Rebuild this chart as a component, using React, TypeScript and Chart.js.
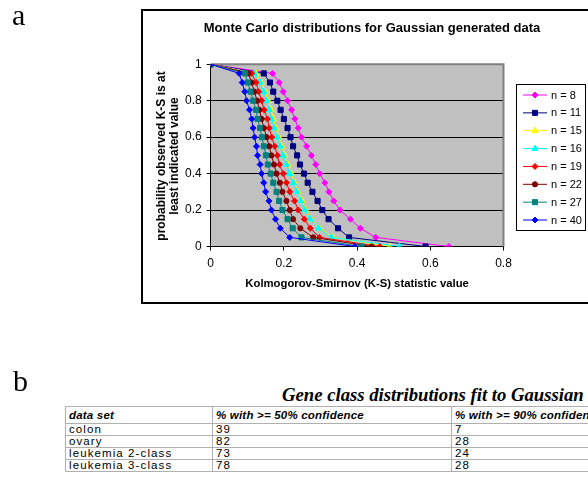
import React, { useEffect, useRef } from "react";
import { Chart, registerables } from "chart.js";

Chart.register(...registerables);

// ---------- chart data ----------
const yLevels = [1, 0.95, 0.9, 0.85, 0.8, 0.75, 0.7, 0.65, 0.6, 0.55, 0.5, 0.45, 0.4, 0.35, 0.3, 0.25, 0.2, 0.15, 0.1, 0.05, 0];
const n8 = [0, 0.169, 0.187, 0.198, 0.21, 0.221, 0.23, 0.239, 0.248, 0.262, 0.275, 0.287, 0.298, 0.312, 0.323, 0.336, 0.353, 0.382, 0.409, 0.451, 0.651];
const n11 = [0, 0.145, 0.162, 0.171, 0.182, 0.191, 0.2, 0.21, 0.218, 0.225, 0.236, 0.244, 0.255, 0.265, 0.278, 0.292, 0.305, 0.322, 0.348, 0.378, 0.587];
const n15 = [0, 0.124, 0.138, 0.149, 0.157, 0.165, 0.171, 0.178, 0.186, 0.194, 0.202, 0.211, 0.22, 0.229, 0.238, 0.25, 0.26, 0.274, 0.297, 0.334, 0.49];
const n16 = [0, 0.12, 0.135, 0.145, 0.153, 0.16, 0.166, 0.174, 0.182, 0.19, 0.198, 0.207, 0.216, 0.226, 0.235, 0.246, 0.257, 0.272, 0.295, 0.33, 0.516];
const n19 = [0, 0.112, 0.124, 0.131, 0.139, 0.146, 0.155, 0.16, 0.167, 0.175, 0.182, 0.188, 0.198, 0.207, 0.216, 0.229, 0.239, 0.256, 0.272, 0.297, 0.462];
const n22 = [0, 0.103, 0.112, 0.119, 0.127, 0.133, 0.139, 0.145, 0.153, 0.16, 0.166, 0.173, 0.18, 0.189, 0.196, 0.207, 0.216, 0.225, 0.245, 0.28, 0.44];
const n27 = [0, 0.094, 0.101, 0.109, 0.116, 0.124, 0.128, 0.135, 0.14, 0.145, 0.151, 0.156, 0.164, 0.171, 0.18, 0.187, 0.196, 0.21, 0.224, 0.248, 0.412];
const n40 = [0, 0.078, 0.086, 0.093, 0.098, 0.106, 0.112, 0.116, 0.12, 0.125, 0.128, 0.135, 0.139, 0.145, 0.15, 0.159, 0.166, 0.177, 0.19, 0.216, 0.394];

const seriesLabels = ["n = 8", "n = 11", "n = 15", "n = 16", "n = 19", "n = 22", "n = 27", "n = 40"];
const seriesX = [n8, n11, n15, n16, n19, n22, n27, n40];
const seriesColors = ["#FF00FF", "#000080", "#FFFF00", "#00FFFF", "#FF0000", "#800000", "#008080", "#0000FF"];
const seriesMarkers = ["rectRot", "rect", "triangle", "triangle", "rectRot", "circle", "rect", "rectRot"];
const seriesRadius = [3, 3.6, 3.6, 3.6, 3, 2.6, 3.6, 3];

const chartTitle = "Monte Carlo distributions for Gaussian generated data";
const xTitle = "Kolmogorov-Smirnov (K-S) statistic value";
const yTitle = ["probability observed K-S is at", "least indicated value"];

// ---------- table data ----------
const tableTitle = "Gene class distributions fit to Gaussian";
const tableHeaders = ["data set", "% with >= 50% confidence", "% with >= 90% confidence"];
const dataSets = ["colon", "ovary", "leukemia 2-class", "leukemia 3-class"];
const pct50 = [39, 82, 73, 78];
const pct90 = [7, 28, 24, 28];

const SANS = "'Liberation Sans', Arial, sans-serif";
const SERIF = "'Liberation Serif', 'Times New Roman', serif";

function drawMarker(ctx: CanvasRenderingContext2D, style: string, x: number, y: number, r: number, color: string) {
  ctx.save();
  ctx.fillStyle = color;
  ctx.strokeStyle = color;
  ctx.lineWidth = 1;
  ctx.beginPath();
  if (style === "rectRot") {
    ctx.moveTo(x, y - r);
    ctx.lineTo(x + r, y);
    ctx.lineTo(x, y + r);
    ctx.lineTo(x - r, y);
    ctx.closePath();
  } else if (style === "rect") {
    const s = r * Math.SQRT1_2;
    ctx.rect(x - s, y - s, 2 * s, 2 * s);
  } else if (style === "triangle") {
    const edge = (3 * r) / Math.sqrt(3);
    const h = (edge * Math.sqrt(3)) / 2;
    ctx.moveTo(x - edge / 2, y + h / 3);
    ctx.lineTo(x + edge / 2, y + h / 3);
    ctx.lineTo(x, y - (2 * h) / 3);
    ctx.closePath();
  } else {
    ctx.arc(x, y, r, 0, Math.PI * 2);
  }
  ctx.fill();
  ctx.stroke();
  ctx.restore();
}

const decor = {
  id: "decor",
  beforeDraw(chart: any) {
    const { ctx, chartArea: a } = chart;
    ctx.save();
    ctx.fillStyle = "#ffffff";
    ctx.fillRect(0, 0, chart.width, chart.height);
    ctx.fillStyle = "#C0C0C0";
    ctx.fillRect(a.left, a.top, a.right - a.left, a.bottom - a.top);
    ctx.restore();
  },
  beforeDatasetsDraw(chart: any) {
    const { ctx, chartArea: a } = chart;
    ctx.save();
    ctx.strokeStyle = "#808080";
    ctx.lineWidth = 2;
    ctx.beginPath();
    ctx.moveTo(a.left, a.top);
    ctx.lineTo(a.right, a.top);
    ctx.lineTo(a.right, a.bottom);
    ctx.stroke();
    ctx.restore();
  },
  afterDraw(chart: any) {
    const { ctx, chartArea: a } = chart;
    ctx.save();
    // outer chart frame
    ctx.strokeStyle = "#000";
    ctx.lineWidth = 2;
    ctx.strokeRect(142, 10, 500, 293);
    // title
    ctx.fillStyle = "#000";
    ctx.textAlign = "center";
    ctx.textBaseline = "middle";
    ctx.font = `bold 13px ${SANS}`;
    ctx.fillText(chartTitle, 372, 28);
    // x title
    ctx.font = `bold 11.3px ${SANS}`;
    ctx.fillText(xTitle, (a.left + a.right) / 2, 284);
    // y title
    ctx.save();
    ctx.font = `bold 12px ${SANS}`;
    ctx.translate(162, 156);
    ctx.rotate(-Math.PI / 2);
    ctx.fillText(yTitle[0], 0, 0);
    ctx.fillText(yTitle[1], 0, 13);
    ctx.restore();
    // legend
    ctx.lineWidth = 1;
    ctx.strokeStyle = "#000";
    ctx.strokeRect(516.5, 84.5, 69, 146);
    ctx.font = `11px ${SANS}`;
    ctx.textAlign = "left";
    for (let i = 0; i < seriesLabels.length; i++) {
      const y = 95 + i * 17.86;
      ctx.strokeStyle = seriesColors[i];
      ctx.lineWidth = 1;
      ctx.beginPath();
      ctx.moveTo(523, y);
      ctx.lineTo(547, y);
      ctx.stroke();
      drawMarker(ctx, seriesMarkers[i], 535, y, seriesRadius[i], seriesColors[i]);
      ctx.fillStyle = "#000";
      ctx.fillText(seriesLabels[i], 551, y + 0.5);
    }
    ctx.restore();
  },
};

function KSChart() {
  const ref = useRef<HTMLCanvasElement | null>(null);
  useEffect(() => {
    if (!ref.current) return;
    const datasets = seriesLabels.map((label, i) => ({
      label,
      data: seriesX[i].map((x, j) => ({ x, y: yLevels[j] })),
      borderColor: seriesColors[i],
      backgroundColor: seriesColors[i],
      borderWidth: 1,
      pointStyle: seriesMarkers[i] as any,
      pointRadius: seriesRadius[i],
      pointBorderWidth: 1,
      pointBorderColor: seriesColors[i],
      pointBackgroundColor: seriesColors[i],
      tension: 0,
      fill: false,
      order: seriesLabels.length - i,
    }));
    const chart = new Chart(ref.current, {
      type: "line",
      data: { datasets },
      options: {
        animation: false,
        responsive: false,
        devicePixelRatio: 1,
        layout: { padding: { left: 150, right: 84.5, top: 64.3, bottom: 23.5 } },
        plugins: { legend: { display: false }, tooltip: { enabled: false }, title: { display: false } },
        scales: {
          x: {
            type: "linear",
            min: 0,
            max: 0.8,
            afterFit: (s: any) => {
              s.height = 40;
            },
            ticks: {
              stepSize: 0.2,
              padding: 6,
              color: "#000",
              font: { family: SANS, size: 12 },
              callback: (v: any) => String(Math.round(Number(v) * 10) / 10),
            },
            grid: { drawOnChartArea: false, drawTicks: true, tickLength: 4, color: "#000" },
            border: { display: true, color: "#000", width: 1 },
          },
          y: {
            type: "linear",
            min: 0,
            max: 1,
            afterFit: (s: any) => {
              s.width = 60.7;
            },
            ticks: {
              stepSize: 0.2,
              padding: 5,
              color: "#000",
              font: { family: SANS, size: 12 },
              callback: (v: any) => String(Math.round(Number(v) * 10) / 10),
            },
            grid: {
              drawTicks: true,
              tickLength: 4,
              color: (c: any) => (c.tick && c.tick.value === 1 ? "rgba(0,0,0,0)" : "#000"),
              tickColor: "#000",
            },
            border: { display: true, color: "#000", width: 1 },
          },
        },
      },
      plugins: [decor],
    });
    return () => chart.destroy();
  }, []);
  return <canvas ref={ref} width={588} height={310} style={{ position: "absolute", left: 0, top: 0, width: 588, height: 310 }} />;
}

export default function App() {
  const cellBase: React.CSSProperties = {
    border: "1px solid #b0b0b0",
    padding: "0 3px",
    fontFamily: SANS,
    fontSize: 11.5,
    letterSpacing: "1.1px",
    whiteSpace: "nowrap",
    overflow: "hidden",
    textAlign: "left",
    verticalAlign: "middle",
    lineHeight: "11px",
  };
  const headCell: React.CSSProperties = {
    ...cellBase,
    fontSize: 11.5,
    letterSpacing: "0.2px",
    fontWeight: "bold",
    fontStyle: "italic",
  };
  const colW = [147, 239, 240];
  return (
    <div style={{ position: "absolute", left: 0, top: 0, width: 588, height: 487, overflow: "hidden", background: "#fff" }}>
      <KSChart />
      <div style={{ position: "absolute", left: 12, top: 0, fontFamily: SERIF, fontSize: 30, lineHeight: "30px" }}>a</div>
      <div style={{ position: "absolute", left: 13, top: 366, fontFamily: SERIF, fontSize: 30, lineHeight: "30px" }}>b</div>
      <div
        style={{
          position: "absolute",
          left: 282,
          top: 385,
          fontFamily: SERIF,
          fontSize: 18.7,
          fontWeight: "bold",
          fontStyle: "italic",
          lineHeight: "20px",
          whiteSpace: "nowrap",
        }}
      >
        {tableTitle}
      </div>
      <table
        style={{
          position: "absolute",
          left: 65,
          top: 406,
          borderCollapse: "collapse",
          tableLayout: "fixed",
          width: colW.reduce((p, c) => p + c, 0),
        }}
      >
        <colgroup>
          {colW.map((w, i) => (
            <col key={i} style={{ width: w }} />
          ))}
        </colgroup>
        <tbody>
          <tr style={{ height: 17 }}>
            {tableHeaders.map((h, i) => (
              <td key={i} style={headCell}>
                {h}
              </td>
            ))}
          </tr>
          {dataSets.map((d, r) => (
            <tr key={r} style={{ height: 12 }}>
              <td style={cellBase}>{d}</td>
              <td style={cellBase}>{pct50[r]}</td>
              <td style={cellBase}>{pct90[r]}</td>
            </tr>
          ))}
        </tbody>
      </table>
    </div>
  );
}
